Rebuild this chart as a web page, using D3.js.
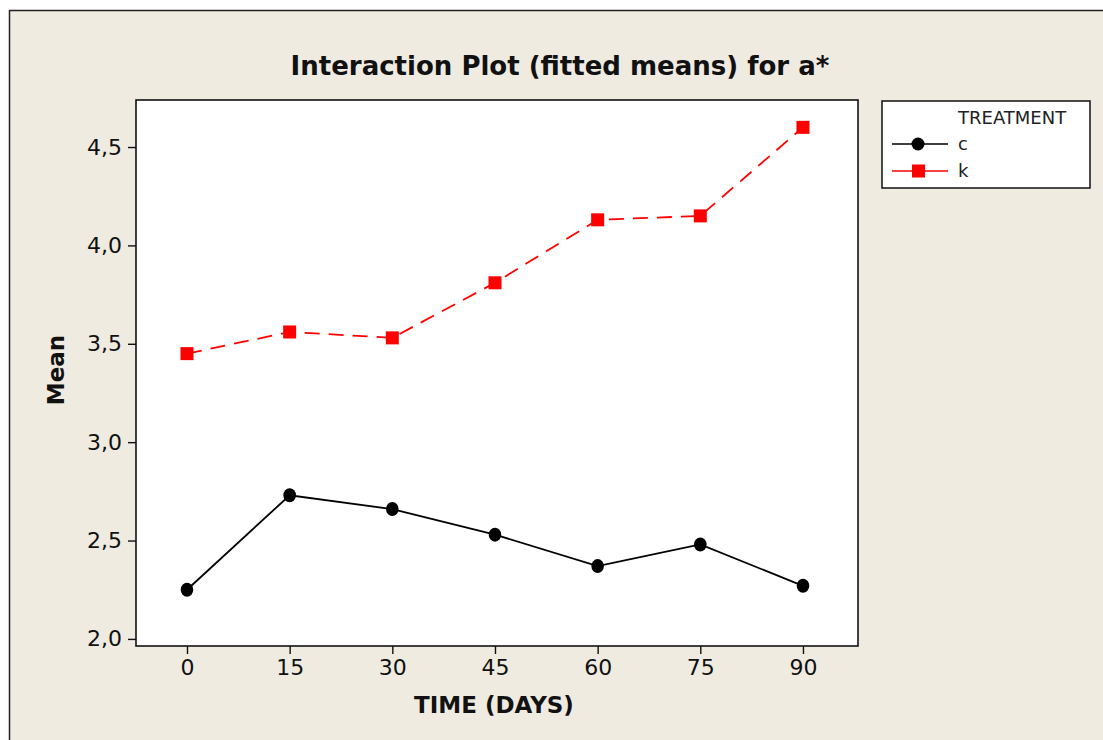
<!DOCTYPE html>
<html lang="en">
<head>
<meta charset="utf-8">
<script src="https://d3js.org/d3.v7.min.js"></script>
<style>
  body { margin: 0; background: #fff; }
  svg { display: block; }
</style>
</head>
<body>
<div id="chart"></div>
<script>
// data
const days = [0, 15, 30, 45, 60, 75, 90];
const meanC = [2.25, 2.73, 2.66, 2.53, 2.37, 2.48, 2.27];
const meanK = [3.45, 3.56, 3.53, 3.81, 4.13, 4.15, 4.60];
const yTicks = [2.0, 2.5, 3.0, 3.5, 4.0, 4.5];
const seriesNames = ["c", "k"];

const W = 1103, H = 740;
const plot = {left: 136, top: 100, right: 858, bottom: 646};
const font = "'DejaVu Sans', Verdana, sans-serif";

const svg = d3.select("#chart").append("svg")
    .attr("width", W).attr("height", H);

// beige panel with its frame
svg.append("rect")
    .attr("x", 9.5).attr("y", 10.5)
    .attr("width", W + 20).attr("height", H + 20)
    .attr("fill", "#efebe1").attr("stroke", "#222").attr("stroke-width", 1.5);

const x = d3.scaleLinear().domain([-7.45, 98.04]).range([plot.left, plot.right]);
const y = d3.scaleLinear().domain([1.964, 4.739]).range([plot.bottom, plot.top]);

svg.append("rect")
    .attr("x", plot.left).attr("y", plot.top)
    .attr("width", plot.right - plot.left).attr("height", plot.bottom - plot.top)
    .attr("fill", "#fff").attr("stroke", "#111").attr("stroke-width", 1.6);

// axes
const fmt = d => d.toFixed(1).replace(".", ",");
const yAxis = svg.append("g")
    .attr("transform", `translate(${plot.left},0)`)
    .call(d3.axisLeft(y).tickValues(yTicks).tickFormat(fmt).tickSize(8).tickPadding(6));
const xAxis = svg.append("g")
    .attr("transform", `translate(0,${plot.bottom})`)
    .call(d3.axisBottom(x).tickValues(days).tickSize(8).tickPadding(5));
[xAxis, yAxis].forEach(a => {
  a.select(".domain").remove();
  a.selectAll(".tick line").attr("stroke", "#111").attr("stroke-width", 1.4);
  a.selectAll(".tick text").attr("fill", "#111")
      .style("font-family", font).style("font-size", "22px");
});

// titles
svg.append("text")
    .attr("x", 560).attr("y", 75)
    .attr("text-anchor", "middle")
    .style("font-family", font).style("font-weight", "bold").style("font-size", "26px")
    .attr("fill", "#111")
    .text("Interaction Plot (fitted means) for a*");
svg.append("text")
    .attr("x", 494).attr("y", 713)
    .attr("text-anchor", "middle")
    .style("font-family", font).style("font-weight", "bold").style("font-size", "23px")
    .attr("fill", "#111")
    .text("TIME (DAYS)");
svg.append("text")
    .attr("transform", "translate(64,370) rotate(-90)")
    .attr("text-anchor", "middle")
    .style("font-family", font).style("font-weight", "bold").style("font-size", "23px")
    .attr("fill", "#111")
    .text("Mean");

// lines
const line = d3.line().x((d, i) => x(days[i])).y(d => y(d));
svg.append("path").datum(meanC)
    .attr("d", line).attr("fill", "none")
    .attr("stroke", "#000").attr("stroke-width", 1.8);
svg.append("path").datum(meanK)
    .attr("d", line).attr("fill", "none")
    .attr("stroke", "#ff0000").attr("stroke-width", 1.8)
    .attr("stroke-dasharray", "15,9");

svg.selectAll(".ptC").data(meanC).join("ellipse")
    .attr("class", "ptC")
    .attr("cx", (d, i) => x(days[i])).attr("cy", d => y(d))
    .attr("rx", 6.3).attr("ry", 7).attr("fill", "#000");
svg.selectAll(".ptK").data(meanK).join("rect")
    .attr("class", "ptK")
    .attr("x", (d, i) => x(days[i]) - 6.5).attr("y", d => y(d) - 6.5)
    .attr("width", 13).attr("height", 13).attr("fill", "#ff0000");

// legend
const lg = svg.append("g");
lg.append("rect")
    .attr("x", 882).attr("y", 101).attr("width", 208).attr("height", 87)
    .attr("fill", "#fff").attr("stroke", "#111").attr("stroke-width", 1.5);
lg.append("text")
    .attr("x", 958).attr("y", 124)
    .style("font-family", font).style("font-size", "18px").attr("fill", "#222")
    .text("TREATMENT");
seriesNames.forEach((name, i) => {
  const ly = 144 + i * 27;
  const col = i === 0 ? "#000" : "#ff0000";
  lg.append("line")
      .attr("x1", 892).attr("x2", 948).attr("y1", ly).attr("y2", ly)
      .attr("stroke", col).attr("stroke-width", 1.6);
  if (i === 0) {
    lg.append("circle").attr("cx", 918).attr("cy", ly).attr("r", 6.5).attr("fill", col);
  } else {
    lg.append("rect").attr("x", 912).attr("y", ly - 6.5).attr("width", 13).attr("height", 13).attr("fill", col);
  }
  lg.append("text")
      .attr("x", 958).attr("y", ly + 6)
      .style("font-family", font).style("font-size", "18px").attr("fill", "#222")
      .text(name);
});
</script>
</body>
</html>
